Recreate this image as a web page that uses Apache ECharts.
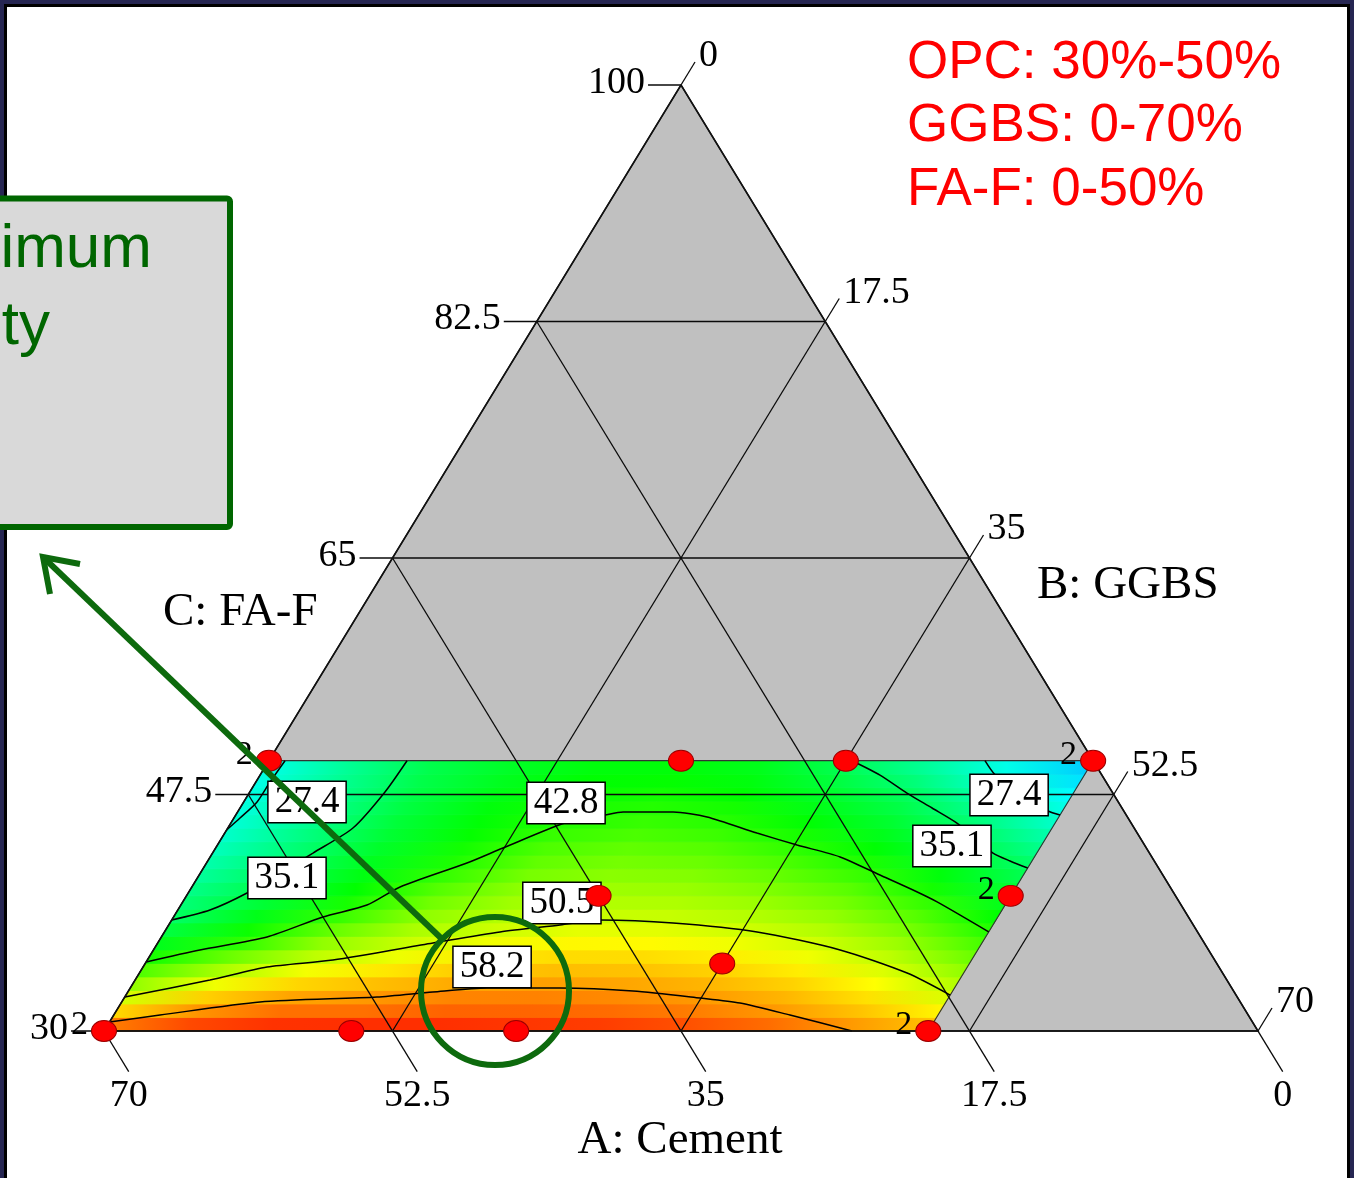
<!DOCTYPE html>
<html>
<head>
<meta charset="utf-8">
<script src="https://cdn.jsdelivr.net/npm/echarts@6/dist/echarts.min.js"></script>
<style>
  html, body { margin: 0; padding: 0; width: 1354px; height: 1178px; overflow: hidden; background: #262652; }
  #paper { position: absolute; left: 4px; top: 4px; width: 1346px; height: 1174px; background: #fff; border: 3px solid #000; border-bottom: none; box-sizing: border-box; }
  #chart { position: absolute; left: 0; top: 0; width: 1354px; height: 1178px; }
</style>
</head>
<body>
<div id="paper"></div>
<div id="chart"></div>
<script>
// Mixture axes (% of binder): OPC cement, GGBS, fly ash class F
const cementTicks = [100, 82.5, 65, 47.5, 30];
const ggbsTicks = [0, 17.5, 35, 52.5, 70];
const flyAshTicks = [70, 52.5, 35, 17.5, 0];

// Corners of the simplex and of the constrained design region, as [cement, ggbs]
const simplexCorners = [[100, 0], [30, 0], [30, 70]];
const regionCorners = [[30, 0], [30, 50], [50, 50], [50, 0]];

// Predicted compressive strength: one band per cement level, sampled across GGBS
const cementLevels = [30.5, 31.5, 32.5, 33.5, 34.5, 35.5, 36.5, 37.5, 38.5, 39.5,
                      40.5, 41.5, 42.5, 43.5, 44.5, 45.5, 46.5, 47.5, 48.5, 49.5];
const ggbsLevels = [0, 5, 10, 15, 20, 25, 30, 35, 40, 45, 50];
const strengthRows = [
  [59.4, 62.4, 63.6, 63.8, 63.8, 63.4, 63.0, 62.0, 60.5, 58.1, 55.8],
  [54.7, 58.4, 60.3, 60.3, 61.0, 60.9, 60.5, 59.6, 58.1, 55.9, 53.1],
  [50.6, 55.1, 57.5, 58.2, 59.2, 59.3, 58.9, 58.1, 56.6, 54.2, 50.9],
  [47.6, 51.9, 54.8, 56.1, 57.3, 57.7, 57.4, 56.5, 55.0, 52.6, 49.1],
  [44.6, 48.8, 52.1, 53.9, 55.5, 56.1, 55.9, 55.0, 53.5, 51.0, 47.5],
  [41.8, 45.9, 49.6, 51.8, 53.7, 54.5, 54.4, 53.5, 51.9, 49.5, 45.8],
  [39.3, 43.0, 47.6, 50.0, 51.9, 53.0, 52.8, 51.9, 50.4, 48.0, 44.2],
  [36.9, 41.5, 45.5, 48.7, 50.3, 51.4, 51.3, 50.4, 49.0, 46.4, 42.5],
  [34.8, 39.5, 43.4, 47.4, 49.3, 50.1, 50.0, 49.2, 47.7, 44.9, 40.9],
  [33.6, 37.8, 42.0, 46.1, 48.3, 49.1, 48.9, 48.0, 46.3, 43.4, 39.3],
  [32.5, 36.7, 41.0, 44.8, 47.4, 48.2, 47.9, 46.8, 45.0, 41.8, 37.6],
  [31.3, 35.6, 40.0, 43.4, 46.4, 47.3, 46.9, 45.6, 43.6, 40.3, 36.0],
  [30.2, 34.7, 39.1, 42.3, 45.4, 46.3, 45.8, 44.4, 42.2, 38.7, 34.2],
  [29.2, 33.8, 38.4, 41.8, 44.5, 45.4, 44.8, 43.2, 40.8, 37.1, 32.3],
  [28.2, 33.0, 37.8, 41.2, 43.5, 44.4, 43.7, 42.0, 39.4, 35.5, 30.3],
  [27.5, 32.4, 37.4, 40.7, 42.6, 43.5, 42.7, 40.8, 38.0, 33.6, 28.3],
  [27.0, 32.1, 36.9, 40.3, 42.0, 42.6, 41.9, 39.6, 36.6, 31.7, 26.5],
  [26.7, 31.8, 36.6, 39.7, 41.4, 41.9, 41.0, 38.4, 35.2, 29.7, 24.8],
  [26.5, 31.7, 36.4, 39.2, 40.9, 41.2, 40.2, 37.2, 33.4, 27.8, 23.1],
  [26.4, 31.6, 36.2, 38.7, 40.3, 40.5, 39.4, 36.0, 31.6, 26.4, 21.4]
];

// Contour levels and traced iso-strength lines, points as [cement, ggbs]
const contourLevels = [27.4, 35.1, 42.8, 50.5, 58.2];
const contour274Left = [[44.87, 0], [45.76, 0.37], [46.95, 0.81], [48.43, 0.86], [50, 0.98]];
const contour274Right = [[50, 43.44], [48.97, 44.56], [47.32, 47.2], [46.28, 49.12], [45.98, 50]];
const contour351Left = [[38.21, 0], [38.95, 1.95], [40.21, 3.57], [41.69, 4.83], [43.17, 6.09], [45.02, 7.59], [47.69, 8.2], [50, 8.38]];
const contour351Right = [[50, 35.37], [48.94, 37.6], [47.61, 39.9], [46.5, 41.98], [45.39, 44.04], [44.28, 45.69], [43.17, 47.34], [42.58, 48.67], [42.06, 50]];
const contour428 = [[35.11, 0], [35.99, 2.82], [36.96, 6.41], [38.44, 9.06], [39.32, 11.29], [40.66, 12.63], [42.43, 15.8], [43.54, 17.43], [45.39, 20.26], [45.98, 22.4], [46.21, 23.38], [46.21, 26.42], [45.84, 28.66], [44.65, 32.28], [43.76, 35.16], [42.88, 38.21], [41.54, 41.3], [40.43, 43.86], [39.55, 45.76], [37.33, 50]];
const contour505 = [[32.52, 0], [33.77, 4.54], [34.74, 7.52], [35.25, 11.26], [36.51, 16.7], [37.33, 20.36], [37.84, 23.74], [38.21, 25.98], [37.99, 30.52], [37.33, 35.95], [36.0, 41.65], [34.29, 46.57], [32.66, 50]];
const contour582 = [[30.67, 0], [31.18, 2.81], [32.15, 8.39], [32.52, 15.3], [32.89, 18.5], [33.18, 21.64], [33.18, 26.07], [32.96, 30.61], [32.44, 34.93], [32.07, 37.54], [31.18, 41.02], [30, 45.37]];

// Where each contour value is written: [cement, ggbs, index into contourLevels]
const contourLabelSpots = [
  [46.95, 3.84, 0], [47.46, 46.17, 0],
  [41.32, 5.44, 1], [43.69, 44.59, 1],
  [46.87, 19.59, 2], [39.47, 23.04, 3], [34.74, 21.17, 4]
];

// Design points [cement, ggbs] and how many times each mix was run
const designPoints = [[50, 0], [50, 25], [50, 35], [50, 50], [40, 25], [40, 50], [35, 35], [30, 0], [30, 15], [30, 25], [30, 50]];
const replicates = [2, 1, 1, 2, 1, 2, 1, 2, 1, 1, 2];

// Color ramp used for the strength surface: [strength, color]
const rampStops = [[14, '#0064ff'], [25, '#00ffff'], [41, '#00ff00'], [52.6, '#ffff00'], [66.3, '#ff0000']];

// ---------------------------------------------------------------------------
const SERIF = '"Liberation Serif", "Times New Roman", serif';
const SANS = '"Liberation Sans", Arial, sans-serif';

// Ternary (cement, ggbs) -> plane coordinates; fly ash is the remainder
const toXY = (cement, ggbs) => [ggbs + (cement - 30) / 2, cement];

function rampColor(v) {
  if (v <= rampStops[0][0]) return rampStops[0][1];
  for (let i = 1; i < rampStops.length; i++) {
    const [v1, c1] = rampStops[i];
    const [v0, c0] = rampStops[i - 1];
    if (v <= v1) return echarts.color.lerp((v - v0) / (v1 - v0), [c0, c1]);
  }
  return rampStops[rampStops.length - 1][1];
}

// Grid lines of the simplex, including their outer tick segments
const gridPolylines = [];
cementTicks.forEach(a => gridPolylines.push({ coords: [toXY(a, -2), toXY(a, 100 - a)] }));
ggbsTicks.forEach(b => gridPolylines.push({ coords: [toXY(30, b), toXY(101.7 - b, b)] }));
flyAshTicks.forEach(c => gridPolylines.push({ coords: [toXY(100 - c, 0), toXY(27, 73 - c)] }));

const bandHalf = (cementLevels[1] - cementLevels[0]) / 2;
const ggbsSpan = ggbsLevels[ggbsLevels.length - 1] - ggbsLevels[0];
const HIDDEN = { color: 'rgba(0,0,0,0)', opacity: 1 };

function contourSeries(points) {
  return {
    type: 'line', z: 5, clip: false, silent: true, smooth: 0.25,
    showSymbol: false, symbol: 'none',
    lineStyle: { color: '#000', width: 1.5 },
    data: points.map(([c, g]) => toXY(c, g))
  };
}

function tickLabelSeries(points, names, labelOpts) {
  return {
    type: 'scatter', z: 12, silent: true, clip: false, symbolSize: 1,
    itemStyle: HIDDEN,
    label: Object.assign({
      show: true, position: 'inside', formatter: '{b}', opacity: 1,
      fontFamily: SERIF, fontSize: 38, color: '#000'
    }, labelOpts),
    data: points.map((p, i) => ({ name: String(names[i]), value: p }))
  };
}

const chart = echarts.init(document.getElementById('chart'), null, { renderer: 'canvas' });

chart.setOption({
  animation: false,
  backgroundColor: 'transparent',
  grid: { left: 104, top: 85, width: 1154, height: 946, containLabel: false },
  xAxis: { type: 'value', min: 0, max: 70, show: false },
  yAxis: { type: 'value', min: 30, max: 100, show: false },
  series: [
    // grey simplex
    {
      type: 'custom', coordinateSystem: 'cartesian2d', z: 1, clip: false, silent: true,
      data: [[0, 30]],
      renderItem: (params, api) => ({
        type: 'polygon',
        shape: { points: simplexCorners.map(([c, g]) => api.coord(toXY(c, g))) },
        style: { fill: '#c0c0c0' }
      })
    },
    // strength surface, one gradient band per cement level
    {
      type: 'custom', coordinateSystem: 'cartesian2d', z: 2, clip: false, silent: true,
      data: strengthRows.map((row, i) => [cementLevels[i]].concat(row)),
      renderItem: (params, api) => {
        const a = api.value(0);
        const g0 = ggbsLevels[0], g1 = ggbsLevels[ggbsLevels.length - 1];
        const lo = a - bandHalf, hi = a + bandHalf;
        const pts = [
          api.coord(toXY(lo, g0)), api.coord(toXY(lo, g1)),
          api.coord(toXY(hi, g1)), api.coord(toXY(hi, g0))
        ];
        const left = api.coord(toXY(a, g0));
        const right = api.coord(toXY(a, g1));
        const stops = ggbsLevels.map((g, k) => ({
          offset: (g - g0) / ggbsSpan,
          color: rampColor(api.value(k + 1))
        }));
        const grad = new echarts.graphic.LinearGradient(left[0], left[1], right[0], right[1], stops, true);
        return {
          type: 'polygon',
          shape: { points: pts },
          style: { fill: grad, stroke: grad, lineWidth: 0.8 }
        };
      }
    },
    // design region boundary
    {
      type: 'lines', coordinateSystem: 'cartesian2d', polyline: true, z: 3, clip: false, silent: true,
      lineStyle: { color: '#333', width: 1.2, opacity: 1 },
      data: [{ coords: [regionCorners[1], regionCorners[2], regionCorners[3]].map(([c, g]) => toXY(c, g)) }]
    },
    // simplex grid
    {
      type: 'lines', coordinateSystem: 'cartesian2d', polyline: true, z: 4, clip: false, silent: true,
      lineStyle: { color: '#0a0a0a', width: 1.3, opacity: 1 },
      data: gridPolylines
    },
    contourSeries(contour274Left),
    contourSeries(contour274Right),
    contourSeries(contour351Left),
    contourSeries(contour351Right),
    contourSeries(contour428),
    contourSeries(contour505),
    contourSeries(contour582),
    // simplex outline
    {
      type: 'lines', coordinateSystem: 'cartesian2d', polyline: true, z: 6, clip: false, silent: true,
      lineStyle: { color: '#111', width: 1.6, opacity: 1 },
      data: [{ coords: simplexCorners.concat([simplexCorners[0]]).map(([c, g]) => toXY(c, g)) }]
    },
    // contour value boxes
    {
      type: 'scatter', z: 8, silent: true, clip: false, symbolSize: 1,
      itemStyle: HIDDEN,
      label: {
        show: true, position: 'inside', formatter: '{b}', opacity: 1,
        fontFamily: SERIF, fontSize: 37, lineHeight: 38, color: '#000',
        backgroundColor: '#fff', borderColor: '#000', borderWidth: 1.5,
        padding: [1, 6, 1, 6]
      },
      data: contourLabelSpots.map(([c, g, k]) => ({ name: contourLevels[k].toFixed(1), value: toXY(c, g) }))
    },
    // design points
    {
      type: 'scatter', z: 9, silent: true, clip: false, symbol: 'circle', symbolSize: [25, 21],
      itemStyle: { color: '#ff0000', borderColor: '#9a0000', borderWidth: 1, opacity: 1 },
      data: designPoints.map(([c, g], i) => ({
        value: toXY(c, g),
        name: String(replicates[i]),
        label: {
          show: replicates[i] > 1, position: 'left', distance: 3, offset: [0, -6], opacity: 1,
          formatter: '{b}', fontFamily: SERIF, fontSize: 34, color: '#000'
        }
      }))
    },
    tickLabelSeries(cementTicks.map(a => toXY(a, -2)), cementTicks, { align: 'right', verticalAlign: 'middle', offset: [-3, -2] }),
    tickLabelSeries(ggbsTicks.map(b => toXY(101.7 - b, b)), ggbsTicks, { align: 'left', verticalAlign: 'middle', offset: [4, -6] }),
    tickLabelSeries(flyAshTicks.map(c => toXY(27, 73 - c)), flyAshTicks, { align: 'center', verticalAlign: 'middle', offset: [0, 24] })
  ],
  graphic: [
    // axis titles
    { type: 'text', z: 20, x: 680, y: 1141, style: { text: 'A: Cement', font: '47px ' + SERIF, fill: '#000', align: 'center', verticalAlign: 'middle', textAlign: 'center', textVerticalAlign: 'middle' } },
    { type: 'text', z: 20, x: 1037, y: 586, style: { text: 'B: GGBS', font: '47px ' + SERIF, fill: '#000', align: 'left', verticalAlign: 'middle', textAlign: 'left', textVerticalAlign: 'middle' } },
    { type: 'text', z: 20, x: 163, y: 613, style: { text: 'C: FA-F', font: '47px ' + SERIF, fill: '#000', align: 'left', verticalAlign: 'middle', textAlign: 'left', textVerticalAlign: 'middle' } },
    // binder ranges
    { type: 'text', z: 20, x: 907, y: 63, style: { text: 'OPC: 30%-50%', font: '53px ' + SANS, fill: '#ff0000', align: 'left', verticalAlign: 'middle', textAlign: 'left', textVerticalAlign: 'middle' } },
    { type: 'text', z: 20, x: 907, y: 126, style: { text: 'GGBS: 0-70%', font: '53px ' + SANS, fill: '#ff0000', align: 'left', verticalAlign: 'middle', textAlign: 'left', textVerticalAlign: 'middle' } },
    { type: 'text', z: 20, x: 907, y: 190, style: { text: 'FA-F: 0-50%', font: '53px ' + SANS, fill: '#ff0000', align: 'left', verticalAlign: 'middle', textAlign: 'left', textVerticalAlign: 'middle' } },
    // callout box
    { type: 'rect', z: 30, shape: { x: -20, y: 198.5, width: 250, height: 328.5, r: 3 }, style: { fill: '#d9d9d9', stroke: '#006600', lineWidth: 6 } },
    { type: 'text', z: 31, x: 152, y: 250, style: { text: 'Optimum', font: '62px ' + SANS, fill: '#006600', align: 'right', verticalAlign: 'middle', textAlign: 'right', textVerticalAlign: 'middle' } },
    { type: 'text', z: 31, x: 50, y: 327, style: { text: 'Quantity', font: '62px ' + SANS, fill: '#006600', align: 'right', verticalAlign: 'middle', textAlign: 'right', textVerticalAlign: 'middle' } },
    // highlight ring and arrow
    { type: 'ellipse', z: 30, shape: { cx: 495, cy: 991, rx: 74, ry: 74 }, style: { fill: 'none', stroke: '#0d6a0d', lineWidth: 6 } },
    { type: 'polyline', z: 30, shape: { points: [[443, 940], [43, 557]] }, style: { fill: 'none', stroke: '#0d6a0d', lineWidth: 6 } },
    { type: 'polyline', z: 30, shape: { points: [[80, 564], [43, 557], [50, 594]] }, style: { fill: 'none', stroke: '#0d6a0d', lineWidth: 6, lineJoin: 'miter' } }
  ]
});
</script>
</body>
</html>
